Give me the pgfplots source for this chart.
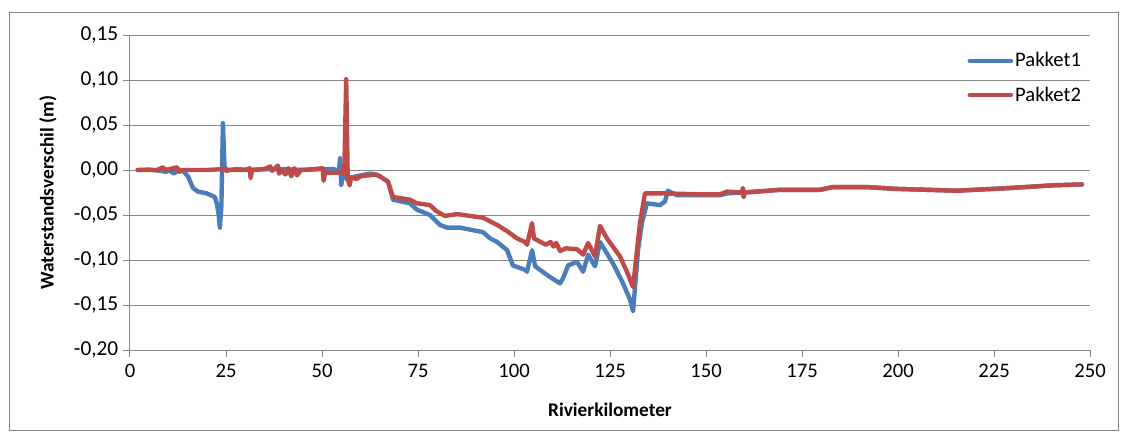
\documentclass[border=0pt]{standalone}
\usepackage{fontspec}
\setmainfont{Carlito}
\usepackage{pgfplots}
\pgfplotsset{compat=1.18}
\definecolor{blu}{HTML}{4A7EBB}
\definecolor{rd}{HTML}{BE4B48}
\definecolor{gr}{HTML}{868686}
\begin{document}
\begin{tikzpicture}
\path[use as bounding box] (-97.5pt,-65.25pt) rectangle (747pt,262.5pt);
\draw[gr, line width=0.75pt] (-90pt,-60pt) rectangle (741pt,253.5pt);
\begin{axis}[
  at={(0,0)}, anchor=south west,
  scale only axis, width=720pt, height=236.25pt,
  xmin=0, xmax=250, ymin=-0.2, ymax=0.15,
  xtick={0,25,50,75,100,125,150,175,200,225,250},
  ytick={-0.2,-0.15,-0.1,-0.05,0,0.05,0.1,0.15},
  yticklabels={{-0,20},{-0,15},{-0,10},{-0,05},{0,00},{0,05},{0,10},{0,15}},
  axis lines*=left,
  axis line style={gr, line width=0.75pt},
  tick style={gr, line width=0.75pt},
  tick align=outside, major tick length=5.25pt,
  ymajorgrids, grid style={gr, line width=0.75pt},
  scaled y ticks=false,
  /pgf/number format/assume math mode=true,
  tick label style={font=\fontsize{15.5}{18}\selectfont},
  yticklabel style={font=\fontsize{16}{18}\selectfont},
  xticklabel style={yshift=-2pt},
  xlabel={\bfseries Rivierkilometer},
  ylabel={\bfseries Waterstandsverschil (m)},
  label style={font=\fontsize{14.5}{17}\selectfont},
  xlabel style={at={(axis description cs:0.5,-0.1905)}, anchor=center},
  ylabel style={at={(axis description cs:-0.0854,0.5)}, anchor=center},
  legend style={draw=none, fill=none, at={(0.868,0.962)}, anchor=north west,
    font=\fontsize{15.5}{18}\selectfont, row sep=9.5pt, nodes={inner xsep=1.5pt}},
  legend cell align=left,
  legend image code/.code={\draw[#1, line width=3.2pt] (0pt,0pt) -- (31pt,0pt);},
  every axis plot/.append style={line width=3.3pt, line join=round, line cap=round},
]
\addplot[blu] coordinates {
(2,0)(5,0.0005)(8,-0.001)(9.5,-0.002)(10,0)(11.5,-0.004)(12.2,-0.001)(13.8,-0.001)(15.1,-0.007)(16.4,-0.020)(17.7,-0.024)(20,-0.026)(22.1,-0.030)(22.6,-0.037)(23.1,-0.050)(23.4,-0.064)(23.8,-0.040)(24.2,0.052)(24.6,0.004)(25.2,0)(28,0.001)(31,0)(35,0.001)(40,0.001)(45,0)(50,0.001)(53,0.001)(54.4,-0.001)(54.7,0.013)(55,-0.017)(55.4,-0.006)(56,-0.008)(57,-0.012)(58,-0.008)(60,-0.006)(62.5,-0.004)(64,-0.005)(65.1,-0.007)(67.2,-0.013)(68.5,-0.033)(72.9,-0.037)(74.7,-0.044)(78.1,-0.050)(80.7,-0.061)(82.6,-0.064)(85.9,-0.064)(91.9,-0.069)(93.8,-0.076)(95.6,-0.080)(98.2,-0.089)(99.7,-0.106)(102.9,-0.111)(103.4,-0.113)(104.7,-0.089)(105.5,-0.107)(109.4,-0.119)(112,-0.126)(112.8,-0.120)(114.1,-0.106)(116.4,-0.102)(118,-0.113)(119.3,-0.094)(121.1,-0.107)(122.4,-0.080)(125.8,-0.104)(128.4,-0.126)(130.2,-0.144)(131,-0.157)(132.3,-0.089)(133.3,-0.059)(134.6,-0.037)(138,-0.039)(139.3,-0.035)(140.1,-0.023)(142.4,-0.028)(153.6,-0.028)(155.5,-0.026)(159.4,-0.025)(159.6,-0.020)(159.8,-0.030)(160,-0.025)(169.3,-0.022)(179.7,-0.022)(183,-0.019)(191.9,-0.019)(199.7,-0.021)(215.4,-0.023)(229.2,-0.020)(240.4,-0.017)(247.9,-0.016)
};
\addlegendentry{Pakket1}
\addplot[rd] coordinates {
(2,0)(7,0)(8.6,0.003)(9.2,0)(12.3,0.003)(12.8,-0.002)(13.5,0)(20,0)(24,0.001)(24.5,0.002)(25,-0.001)(26,0)(30,0)(31.2,0.002)(31.4,-0.009)(31.8,0)(35,0.001)(36.5,0.004)(37,-0.001)(38.5,0.005)(38.8,-0.004)(39.5,0)(40.5,-0.005)(41.2,0.002)(42,-0.007)(42.8,0.002)(43.5,-0.006)(44.5,0)(48,0.001)(50.2,0.002)(50.4,-0.012)(50.8,-0.003)(54,-0.003)(55,-0.002)(55.8,-0.004)(56.3,0.101)(56.7,-0.010)(57.2,-0.017)(57.6,-0.008)(59,-0.010)(60,-0.007)(62,-0.006)(64,-0.005)(65.1,-0.007)(67.2,-0.013)(68.5,-0.030)(72.9,-0.033)(74.7,-0.037)(78.1,-0.039)(79.9,-0.046)(82,-0.051)(85.2,-0.049)(91.9,-0.053)(95.6,-0.061)(98.2,-0.068)(100.8,-0.076)(102.9,-0.080)(103.4,-0.083)(104.7,-0.059)(105.2,-0.076)(108.3,-0.083)(109.5,-0.080)(110.3,-0.085)(111,-0.081)(112,-0.090)(113.5,-0.087)(116.4,-0.088)(118,-0.094)(119.3,-0.081)(121.1,-0.096)(122.4,-0.062)(124.2,-0.076)(127.6,-0.096)(129.4,-0.113)(131,-0.130)(132.8,-0.059)(134.1,-0.026)(139,-0.026)(148.4,-0.027)(153.6,-0.027)(155.5,-0.024)(159.4,-0.025)(159.6,-0.020)(159.8,-0.030)(160,-0.025)(169.3,-0.022)(179.7,-0.022)(183,-0.019)(191.9,-0.019)(199.7,-0.021)(215.4,-0.023)(229.2,-0.020)(240.4,-0.017)(247.9,-0.016)
};
\addlegendentry{Pakket2}
\end{axis}
\end{tikzpicture}
\end{document}
